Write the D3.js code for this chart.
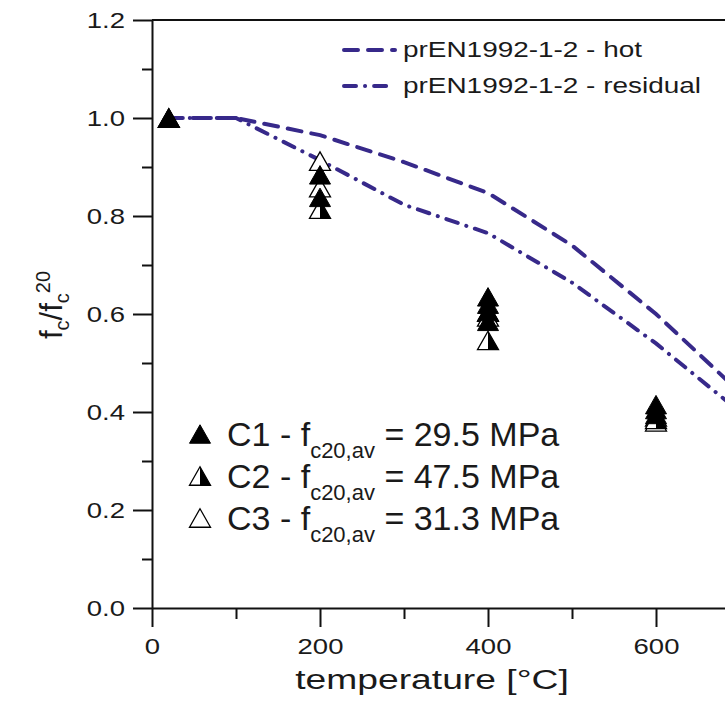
<!DOCTYPE html>
<html>
<head>
<meta charset="utf-8">
<script src="https://cdn.jsdelivr.net/npm/d3@7"></script>
<style>
  body { margin: 0; background: #fff; }
  text { font-family: "Liberation Sans", Arial, sans-serif; fill: #1a1a1a; white-space: pre; }
</style>
</head>
<body>
<div id="chart"></div>
<script>
// prEN1992-1-2 reduction curves
const curveTemps = [20, 100, 200, 300, 400, 500, 600, 700];
const hotValues = [1.0, 1.0, 0.965, 0.91, 0.847, 0.74, 0.60, 0.44];
const residualValues = [1.0, 1.0, 0.914, 0.823, 0.765, 0.664, 0.54, 0.40];
const curveLabels = ["prEN1992-1-2 - hot", "prEN1992-1-2 - residual"];

// test results
const c1Temps = [20, 200, 200, 400, 400, 400, 400, 600, 600, 600];
const c1Values = [1.0, 0.884, 0.838, 0.635, 0.62, 0.605, 0.585, 0.415, 0.405, 0.395];
const c2Temps = [20, 200, 400, 600];
const c2Values = [1.0, 0.814, 0.546, 0.385];
const c3Temps = [20, 200, 200, 400, 400, 600, 600];
const c3Values = [1.0, 0.912, 0.858, 0.604, 0.594, 0.39, 0.38];
const seriesNames = ["C1", "C2", "C3"];
const seriesStrength = ["29.5", "47.5", "31.3"];

const xTicks = [0, 200, 400, 600];
const xMinorTicks = [100, 300, 500, 700];
const yTicks = [0, 0.2, 0.4, 0.6, 0.8, 1.0, 1.2];
const yMinorTicks = [0.1, 0.3, 0.5, 0.7, 0.9, 1.1];

const lineColor = "#37298a";
const SX = 1.25; // text in the figure is stretched horizontally

const svg = d3.select("#chart").append("svg")
    .attr("width", 725)
    .attr("height", 721);

const x = d3.scaleLinear().domain([0, 800]).range([152, 824]);
const y = d3.scaleLinear().domain([0, 1.2]).range([608, 20]);

// triangle symbols, centred on their bounding box
const triangle = {
    draw(ctx, size) {
        const w = Math.sqrt(size), h = w * 0.88;
        ctx.moveTo(0, -h / 2);
        ctx.lineTo(w / 2, h / 2);
        ctx.lineTo(-w / 2, h / 2);
        ctx.closePath();
    }
};
const rightHalf = {
    draw(ctx, size) {
        const w = Math.sqrt(size), h = w * 0.88;
        ctx.moveTo(0, -h / 2);
        ctx.lineTo(w / 2, h / 2);
        ctx.lineTo(0, h / 2);
        ctx.closePath();
    }
};
const triPath = d3.symbol().type(triangle).size(441)();
const halfPath = d3.symbol().type(rightHalf).size(441)();

function styleAxis(g) {
    g.attr("font-family", null).attr("font-size", null);
    g.select(".domain").attr("stroke", "#111").attr("stroke-width", 2);
    g.selectAll(".tick line").attr("stroke", "#111").attr("stroke-width", 2);
}

// y axis
svg.append("g")
    .attr("transform", `translate(${x(0)},0)`)
    .call(d3.axisLeft(y).tickValues(yMinorTicks).tickSize(10).tickFormat(""))
    .call(styleAxis)
    .call(g => g.select(".domain").remove());

svg.append("g")
    .attr("transform", `translate(${x(0)},0)`)
    .call(d3.axisLeft(y).tickValues(yTicks).tickSize(19).tickSizeOuter(0).tickPadding(8).tickFormat(d3.format(".1f")))
    .call(styleAxis)
    .call(g => g.selectAll(".tick text")
        .attr("font-size", 22)
        .attr("fill", "#1a1a1a")
        .attr("x", -27 / SX)
        .attr("transform", `scale(${SX},1)`));

// x axis
svg.append("g")
    .attr("transform", `translate(0,${y(0)})`)
    .call(d3.axisBottom(x).tickValues(xMinorTicks).tickSize(11).tickFormat(""))
    .call(styleAxis)
    .call(g => g.select(".domain").remove());

svg.append("g")
    .attr("transform", `translate(0,${y(0)})`)
    .call(d3.axisBottom(x).tickValues(xTicks).tickSize(19).tickSizeOuter(0).tickPadding(11))
    .call(styleAxis)
    .call(g => g.selectAll(".tick text")
        .attr("font-size", 22)
        .attr("fill", "#1a1a1a")
        .attr("transform", `scale(${SX},1)`));

// top frame
svg.append("line")
    .attr("x1", x(0)).attr("x2", x(800))
    .attr("y1", y(1.2)).attr("y2", y(1.2))
    .attr("stroke", "#111").attr("stroke-width", 2);

// axis titles
svg.append("text")
    .attr("transform", `translate(432,689) scale(1.33,1)`)
    .attr("text-anchor", "middle")
    .attr("font-size", 28)
    .text("temperature [°C]");

const yTitle = svg.append("text")
    .attr("transform", "translate(62,305) rotate(-90)")
    .attr("text-anchor", "middle")
    .attr("font-size", 31);
yTitle.append("tspan").text("f");
yTitle.append("tspan").attr("font-size", 20).attr("dy", 7).text("c");
yTitle.append("tspan").attr("dy", -7).text("/f");
yTitle.append("tspan").attr("font-size", 20).attr("dy", 7).text("c");
yTitle.append("tspan").attr("font-size", 20).attr("dy", -19).text("20");

// curves
svg.append("clipPath").attr("id", "plot-clip")
    .append("rect")
    .attr("x", x(0)).attr("y", y(1.2))
    .attr("width", x(800) - x(0)).attr("height", y(0) - y(1.2));

const line = d3.line().x(d => x(d.t)).y(d => y(d.v));
const curves = [
    { values: hotValues, dash: "14,10" },
    { values: residualValues, dash: "12,9,0.1,9" }
];

svg.append("g").attr("clip-path", "url(#plot-clip)")
    .selectAll("path")
    .data(curves)
    .join("path")
    .attr("d", c => line(curveTemps.map((t, i) => ({ t, v: c.values[i] }))))
    .attr("fill", "none")
    .attr("stroke", lineColor)
    .attr("stroke-width", 4)
    .attr("stroke-linecap", "round")
    .attr("stroke-dasharray", c => c.dash);

// markers: C3 (open), C2 (half), C1 (filled) on top
const markers = svg.append("g");

markers.selectAll(".c3")
    .data(c3Temps.map((t, i) => ({ t, v: c3Values[i] })))
    .join("path")
    .attr("class", "c3")
    .attr("transform", d => `translate(${x(d.t)},${y(d.v)})`)
    .attr("d", triPath)
    .attr("fill", "#fff").attr("stroke", "#000").attr("stroke-width", 1.3);

const c2 = markers.selectAll(".c2")
    .data(c2Temps.map((t, i) => ({ t, v: c2Values[i] })))
    .join("g")
    .attr("class", "c2")
    .attr("transform", d => `translate(${x(d.t)},${y(d.v)})`);
c2.append("path").attr("d", triPath).attr("fill", "#fff").attr("stroke", "#000").attr("stroke-width", 1.3);
c2.append("path").attr("d", halfPath).attr("fill", "#000");

markers.selectAll(".c1")
    .data(c1Temps.map((t, i) => ({ t, v: c1Values[i] })))
    .join("path")
    .attr("class", "c1")
    .attr("transform", d => `translate(${x(d.t)},${y(d.v)})`)
    .attr("d", triPath)
    .attr("fill", "#000").attr("stroke", "#000").attr("stroke-width", 1);

// curve legend
const curveLegend = svg.append("g");
curves.forEach((c, i) => {
    const row = curveLegend.append("g").attr("transform", `translate(0,${50 + i * 36})`);
    row.append("line")
        .attr("x1", 344).attr("x2", 395)
        .attr("stroke", lineColor).attr("stroke-width", 4)
        .attr("stroke-linecap", "round")
        .attr("stroke-dasharray", c.dash);
    row.append("text")
        .attr("transform", `translate(403,7) scale(1.27,1)`)
        .attr("font-size", 22)
        .text(curveLabels[i]);
});

// series legend
const seriesLegend = svg.append("g");
seriesNames.forEach((name, i) => {
    const row = seriesLegend.append("g").attr("transform", `translate(0,${446 + i * 42})`);
    const mark = row.append("g").attr("transform", "translate(200,-12)");
    if (i === 0) {
        mark.append("path").attr("d", triPath).attr("fill", "#000").attr("stroke", "#000");
    } else if (i === 1) {
        mark.append("path").attr("d", triPath).attr("fill", "#fff").attr("stroke", "#000").attr("stroke-width", 1.3);
        mark.append("path").attr("d", halfPath).attr("fill", "#000");
    } else {
        mark.append("path").attr("d", triPath).attr("fill", "#fff").attr("stroke", "#000").attr("stroke-width", 1.3);
    }
    const t = row.append("text").attr("x", 227).attr("font-size", 34);
    t.append("tspan").text(`${name} - f`);
    t.append("tspan").attr("font-size", 22).attr("dy", 12).text("c20,av");
    t.append("tspan").attr("dy", -12).text(` = ${seriesStrength[i]} MPa`);
});
</script>
</body>
</html>
